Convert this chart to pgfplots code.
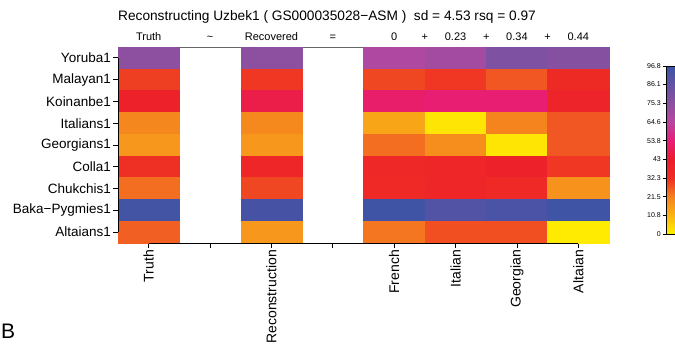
\documentclass[border=0pt]{standalone}
\usepackage{pgfplots}
\pgfplotsset{compat=1.18}
\usepackage{pgfplotstable}
\usepackage{fontspec}
\setmainfont{Liberation Sans}

% columns: 0 Truth, 1 blank, 2 Reconstruction, 3 blank, 4 French, 5 Italian, 6 Georgian, 7 Altaian
% rows: 0 Yoruba1 ... 8 Altaians1
\pgfplotstableread{
x y c
0 0 75
1 0 nan
2 0 75
3 0 nan
4 0 67
5 0 70
6 0 79
7 0 77
0 1 30
1 1 nan
2 1 31
3 1 nan
4 1 29
5 1 31
6 1 27
7 1 34
0 2 40
1 2 nan
2 2 47
3 2 nan
4 2 52
5 2 53
6 2 53
7 2 38
0 3 20.5
1 3 nan
2 3 20
3 3 nan
4 3 14
5 3 2
6 3 21
7 3 27
0 4 17
1 4 nan
2 4 17
3 4 nan
4 4 24
5 4 19
6 4 2
7 4 27
0 5 32
1 5 nan
2 5 37
3 5 nan
4 5 36
5 5 37
6 5 40
7 5 31
0 6 24
1 6 nan
2 6 29
3 6 nan
4 6 35
5 6 37
6 6 35
7 6 18
0 7 95
1 7 nan
2 7 94
3 7 nan
4 7 96
5 7 91
6 7 93
7 7 96
0 8 26
1 8 nan
2 8 17
3 8 nan
4 8 23
5 8 28
6 8 28
7 8 1
}\heat

\begin{document}
\begin{tikzpicture}
\path[use as bounding box] (0pt,0pt) rectangle (675pt,350pt);
\clip (0pt,0pt) rectangle (675pt,350pt);
\begin{axis}[
  at={(118pt,107pt)}, anchor=south west,
  scale only axis, width=491pt, height=196pt,
  xmin=-0.5, xmax=7.5, ymin=-0.5, ymax=8.5,
  y dir=reverse, clip=false,
  colormap={heat}{[1pt]
    rgb255(0pt)=(255,240,0);
    rgb255(108pt)=(250,180,20);
    rgb255(215pt)=(245,130,32);
    rgb255(323pt)=(238,45,36);
    rgb255(430pt)=(237,28,45);
    rgb255(538pt)=(232,30,120);
    rgb255(646pt)=(185,70,160);
    rgb255(753pt)=(140,80,160);
    rgb255(861pt)=(100,82,165);
    rgb255(968pt)=(60,84,165)},
  point meta min=0, point meta max=96.8,
  unbounded coords=jump,
  xtick={0,...,7},
  xticklabels={Truth,,Reconstruction,,French,Italian,Georgian,Altaian},
  ytick={0,...,8},
  yticklabels={Yoruba1,Malayan1,Koinanbe1,Italians1,Georgians1,Colla1,Chukchis1,Baka\textminus Pygmies1,Altaians1},
  xtick pos=bottom, ytick pos=left,
  tick align=outside, major tick length=5pt,
  tick style={black, line width=0.8pt},
  axis line style={black!60, line width=0.5pt},
  xticklabel style={rotate=90, anchor=east, font=\fontsize{14}{16}\selectfont, inner sep=2pt},
  yticklabel style={font=\fontsize{13.5}{15}\selectfont, inner sep=2pt},
  colorbar,
  colorbar style={
    at={(parent axis.south east)}, anchor=south west,
    xshift=49pt, yshift=9pt,
    scale only axis, width=15pt, height=168pt,
    ytick={0,10.8,21.5,32.3,43,53.8,64.6,75.3,86.1,96.8},
    yticklabels={0,10.8,21.5,32.3,43,53.8,64.6,75.3,86.1,96.8},
    yticklabel pos=left, ytick pos=left,
    tick align=outside, major tick length=4pt,
    tick style={black, line width=0.6pt},
    axis line style={black, line width=0.6pt},
    yticklabel style={font=\fontsize{7}{8}\selectfont, inner sep=1.5pt},
  },
]
\addplot[matrix plot*, mesh/cols=8, point meta=explicit] table[x=x, y=y, meta=c] {\heat};
\draw[black, line width=0.9pt] (axis cs:-0.5,0) -- (axis cs:-0.5,8);
\draw[black, line width=0.9pt] (axis cs:0,8.5) -- (axis cs:7,8.5);
\begin{scope}[every node/.style={anchor=base, font=\fontsize{11}{13}\selectfont, yshift=6.5pt, inner sep=0pt}]
\node at (axis cs:0,-0.5) {Truth};
\node at (axis cs:1,-0.5) {\textasciitilde};
\node at (axis cs:2,-0.5) {Recovered};
\node at (axis cs:3,-0.5) {=};
\node at (axis cs:4,-0.5) {0};
\node at (axis cs:4.5,-0.5) {+};
\node at (axis cs:5,-0.5) {0.23};
\node at (axis cs:5.5,-0.5) {+};
\node at (axis cs:6,-0.5) {0.34};
\node at (axis cs:6.5,-0.5) {+};
\node at (axis cs:7,-0.5) {0.44};
\end{scope}
\end{axis}
\node[anchor=base, font=\fontsize{13.7}{16}\selectfont, inner sep=0pt] at (327pt,329pt) {Reconstructing Uzbek1 ( GS000035028\textminus ASM )\ \ sd = 4.53 rsq = 0.97};
\node[anchor=base west, font=\fontsize{21}{24}\selectfont, inner sep=0pt] at (1pt,11pt) {B};
\end{tikzpicture}
\end{document}
